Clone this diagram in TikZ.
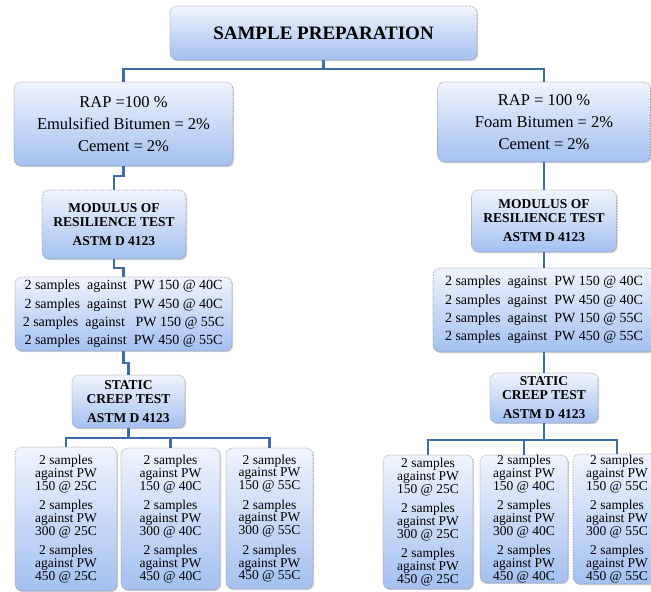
\documentclass[tikz,border=0pt]{standalone}
\usepackage{fontspec}
\setmainfont{Liberation Serif}
\usetikzlibrary{shadows}
\definecolor{topc}{RGB}{240,244,253}
\definecolor{botc}{RGB}{163,192,240}
\definecolor{linec}{RGB}{62,108,170}
\definecolor{bordc}{RGB}{140,140,140}
\begin{document}
\begin{tikzpicture}[x=1pt,y=-1pt,
 box/.style={rectangle, rounded corners=7pt, draw=bordc, densely dotted, line width=0.6pt,
   top color=topc, bottom color=botc, inner sep=0pt, align=center,
   drop shadow={shadow xshift=1.2pt, shadow yshift=-1.2pt, opacity=0.35, fill=gray}},
 conn/.style={draw=linec, line width=2.2pt},
 titlefont/.style={font=\fontsize{19}{22}\selectfont\bfseries},
 rapfont/.style={font=\fontsize{16.5}{22}\selectfont},
 testfont/.style={font=\fontsize{13.5}{14}\selectfont\bfseries},
 samfont/.style={font=\fontsize{14}{18.3}\selectfont},
 botfont/.style={font=\fontsize{13.5}{12.7}\selectfont}
]
\useasboundingbox (0,0) rectangle (651,592);

% top
\node[box, titlefont, minimum width=307pt, minimum height=54pt] (top) at (323.5,33) {SAMPLE PREPARATION};

% left column
\node[box, rapfont, minimum width=219pt, minimum height=84pt] (rapL) at (123.5,124)
 {RAP =100 \%\\Emulsified Bitumen = 2\%\\Cement = 2\%};
\node[box, testfont, minimum width=144pt, minimum height=69pt] (modL) at (114,224.5)
 {MODULUS OF\\RESILIENCE TEST\\[5pt]ASTM D 4123};
\node[box, samfont, minimum width=217pt, minimum height=74pt] (samL) at (123.5,314)
 {2 samples\ \ against\ \ PW 150 @ 40C\\2 samples\ \ against\ \ PW 450 @ 40C\\2 samples\ \ against\ \ \ PW 150 @ 55C\\2 samples\ \ against\ \ PW 450 @ 55C};
\node[box, testfont, minimum width=113pt, minimum height=53pt] (creepL) at (128.5,401.5)
 {STATIC\\CREEP TEST\\[5pt]ASTM D 4123};
\node[box, botfont, minimum width=102pt, minimum height=144pt] (bL1) at (66,519)
 {2 samples\\against PW\\150 @ 25C\\[7pt]2 samples\\against PW\\300 @ 25C\\[7pt]2 samples\\against PW\\450 @ 25C};
\node[box, botfont, minimum width=99pt, minimum height=142pt] (bL2) at (170.5,519)
 {2 samples\\against PW\\150 @ 40C\\[7pt]2 samples\\against PW\\300 @ 40C\\[7pt]2 samples\\against PW\\450 @ 40C};
\node[box, botfont, minimum width=87pt, minimum height=141pt] (bL3) at (269.5,518.5)
 {2 samples\\against PW\\150 @ 55C\\[7pt]2 samples\\against PW\\300 @ 55C\\[7pt]2 samples\\against PW\\450 @ 55C};

% right column
\node[box, rapfont, minimum width=213pt, minimum height=80pt] (rapR) at (544,122)
 {RAP = 100 \%\\Foam Bitumen = 2\%\\Cement = 2\%};
\node[box, testfont, minimum width=145pt, minimum height=62pt] (modR) at (544,221)
 {MODULUS OF\\RESILIENCE TEST\\[5pt]ASTM D 4123};
\node[box, samfont, minimum width=222pt, minimum height=84pt] (samR) at (544,310)
 {2 samples\ \ against\ \ PW 150 @ 40C\\2 samples\ \ against\ \ PW 450 @ 40C\\2 samples\ \ against\ \ PW 150 @ 55C\\2 samples\ \ against\ \ PW 450 @ 55C};
\node[box, testfont, minimum width=108pt, minimum height=50pt] (creepR) at (544,398)
 {STATIC\\CREEP TEST\\[5pt]ASTM D 4123};
\node[box, botfont, minimum width=90pt, minimum height=134pt] (bR1) at (428,522)
 {2 samples\\against PW\\150 @ 25C\\[7pt]2 samples\\against PW\\300 @ 25C\\[7pt]2 samples\\against PW\\450 @ 25C};
\node[box, botfont, minimum width=88pt, minimum height=128pt] (bR2) at (524,519)
 {2 samples\\against PW\\150 @ 40C\\[7pt]2 samples\\against PW\\300 @ 40C\\[7pt]2 samples\\against PW\\450 @ 40C};
\node[box, botfont, minimum width=88pt, minimum height=130pt] (bR3) at (617,519)
 {2 samples\\against PW\\150 @ 55C\\[7pt]2 samples\\against PW\\300 @ 55C\\[7pt]2 samples\\against PW\\450 @ 55C};

% connectors
\coordinate (hub) at (323.5,69);
\draw[conn] (top.south) -- (hub);
\draw[conn] (hub) -| (rapL.north);
\draw[conn] (hub) -| (rapR.north);

\draw[conn] (rapL.south) -- ++(0,10) -| (modL.north);
\draw[conn] (modL.south) -- ++(0,9) -| (samL.north);
\draw[conn] (samL.south) -- ++(0,12) -| (creepL.north);
\coordinate (cL) at (128.5,438);
\draw[conn] (creepL.south) -- (cL);
\draw[conn] (cL) -| (bL1.north);
\draw[conn] (cL) -| (bL2.north);
\draw[conn] (cL) -| (bL3.north);

\draw[conn] (rapR.south) -- (modR.north);
\draw[conn] (modR.south) -- (samR.north);
\draw[conn] (samR.south) -- (creepR.north);
\coordinate (cR) at (544,440);
\draw[conn] (creepR.south) -- (cR);
\draw[conn] (cR) -| (bR1.north);
\draw[conn] (cR) -| (bR2.north);
\draw[conn] (cR) -| (bR3.north);
\end{tikzpicture}
\end{document}
